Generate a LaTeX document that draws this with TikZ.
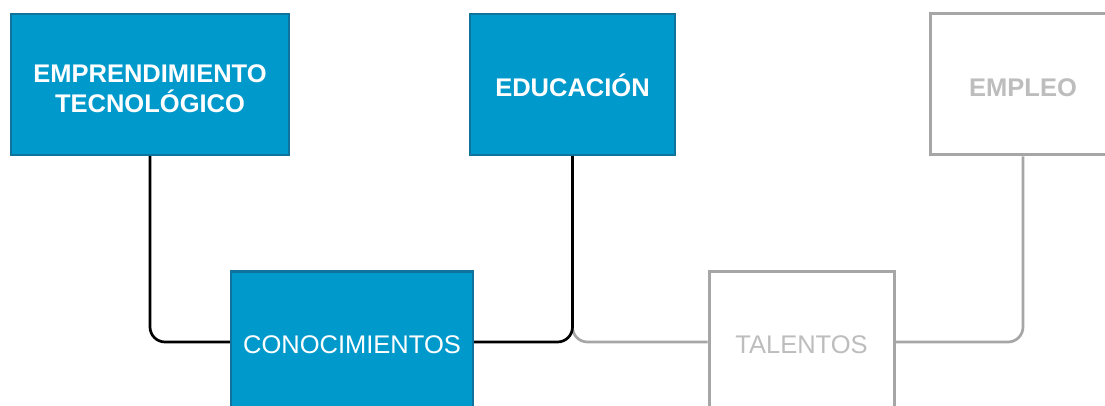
\documentclass[tikz,border=0pt]{standalone}
\usepackage{fontspec}
\setmainfont{Liberation Sans}
\definecolor{boxblue}{HTML}{0099CC}
\definecolor{boxedge}{HTML}{10739E}
\definecolor{offline}{HTML}{A6A6A6}
\definecolor{offtext}{HTML}{BDBDBD}
\begin{document}
\begin{tikzpicture}[x=1pt,y=-1pt]
    \tikzstyle{active}=[draw=boxedge,fill=boxblue,line width=2.2pt,text=white,inner sep=0pt,text height=23pt,text depth=0pt,minimum height=141pt,font=\fontsize{25.5}{30}\selectfont]
    \tikzstyle{inactive}=[draw=offline,fill=white,line width=3pt,text=offtext,inner sep=0pt,text height=23pt,text depth=0pt,minimum height=141pt,font=\fontsize{25.5}{30}\selectfont]
    \tikzstyle{toprow}=[text height=25pt,font=\fontsize{25.5}{30}\selectfont\bfseries]
    \tikzstyle{link}=[line width=2.7pt,rounded corners=15pt,black]
    \tikzstyle{offlink}=[line width=2.7pt,rounded corners=15pt,offline]

    \useasboundingbox (0,0) rectangle (1105,406);
    \clip (0,0) rectangle (1105,406);

    \node[active,toprow,minimum width=278pt,align=center,text height=56pt] at (150,84.5) (emp) {EMPRENDIMIENTO\\TECNOLÓGICO};
    \node[active,toprow,minimum width=205pt] at (572.5,84.5) (edu) {EDUCACIÓN};
    \node[inactive,toprow,minimum width=186pt] at (1023,84.5) (empleo) {EMPLEO};
    \node[active,minimum width=242pt] at (352,342) (con) {CONOCIMIENTOS};
    \node[inactive,minimum width=185pt] at (801.5,342) (tal) {TALENTOS};

    \draw[offlink] (edu.south) |- (tal.west);
    \draw[offlink] (tal.east) -| (empleo.south);

    \draw[link] (emp.south) |- (con.west);
    \draw[link] (con.east) -| (edu.south);
\end{tikzpicture}
\end{document}
